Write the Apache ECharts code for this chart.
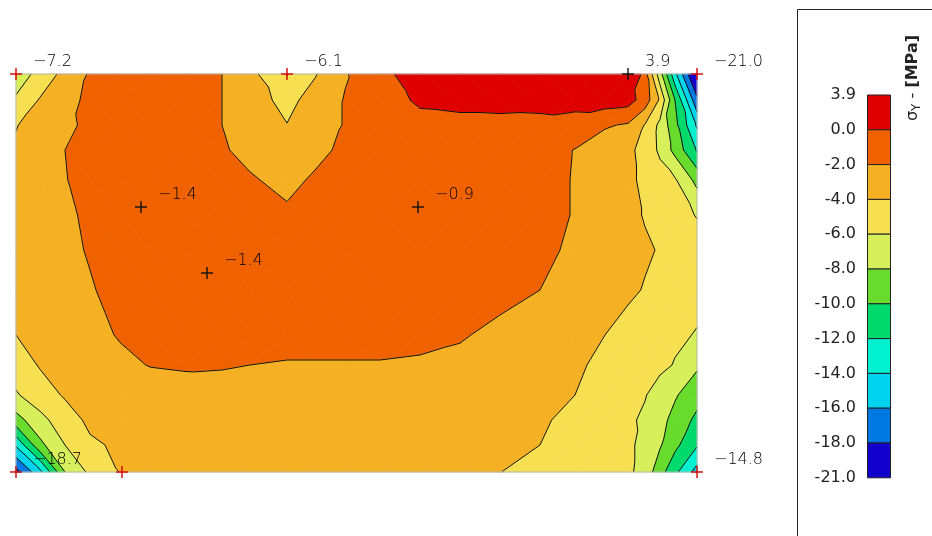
<!DOCTYPE html>
<html><head><meta charset="utf-8">
<script src="https://cdn.jsdelivr.net/npm/echarts@6/dist/echarts.min.js"></script>
<style>html,body{margin:0;padding:0;background:#fff}#c{width:932px;height:536px}</style>
</head><body><div id="c"></div>
<script>
// Mesh node positions (cm along / down the member)
const xNodes = [0, 24, 49, 74, 104, 134, 169, 206, 234, 271, 299, 329, 364, 404, 444, 484, 524, 559, 589, 612, 629, 644, 659, 681];
const yNodes = [0, 26, 51, 76, 106, 141, 176, 216, 261, 291, 321, 346, 371, 398];
// Stress sigma_Y [MPa] at each node, one row per yNode
const row00 = [-7.2, -5.3, -3.4, -1.8, -1.3, -1.0, -1.3, -2.0, -3.4, -6.1, -4.15, -2.15, -0.55, 1.0, 1.8, 2.5, 3.0, 3.4, 3.7, 3.9, -1.2, -7.2, -13.5, -21.0];
const row01 = [-5.7, -3.85, -2.6, -1.6, -1.2, -1.0, -1.2, -2.0, -3.1, -4.6, -3.2, -1.9, -0.9, 0.3, 0.5, 0.6, 0.7, 0.9, 1.0, 0.8, -0.9, -4.3, -10.0, -17.5];
const row02 = [-4.1, -3.1, -2.3, -1.7, -1.3, -1.1, -1.3, -2.0, -2.9, -3.95, -2.9, -1.9, -1.2, -0.6, -0.5, -0.5, -0.6, -1.0, -1.8, -2.2, -4.1, -6.5, -9.4, -14.3];
const row03 = [-3.7, -2.9, -2.0, -1.6, -1.3, -1.2, -1.3, -1.85, -2.4, -2.9, -2.4, -1.7, -1.3, -1.0, -0.9, -1.0, -1.4, -2.05, -3.0, -3.6, -4.6, -6.4, -8.6, -12.2];
const row04 = [-3.4, -2.8, -2.05, -1.6, -1.3, -1.3, -1.3, -1.5, -1.85, -2.4, -1.8, -1.4, -1.1, -1.0, -1.0, -1.1, -1.4, -2.1, -2.9, -3.6, -4.4, -5.1, -5.8, -8.6];
const row05 = [-3.2, -2.7, -2.2, -1.8, -1.4, -1.4, -1.3, -1.3, -1.4, -1.75, -1.5, -1.2, -1.0, -0.9, -0.9, -1.0, -1.4, -2.1, -2.9, -3.6, -4.1, -4.7, -5.3, -6.1];
const row06 = [-3.1, -2.7, -2.3, -1.9, -1.5, -1.4, -1.3, -1.3, -1.3, -1.4, -1.3, -1.2, -1.0, -0.9, -1.0, -1.2, -1.6, -2.3, -2.9, -3.4, -3.8, -4.1, -4.6, -5.2];
const row07 = [-3.1, -2.8, -2.4, -2.1, -1.6, -1.4, -1.4, -1.3, -1.3, -1.3, -1.2, -1.2, -1.1, -1.1, -1.2, -1.5, -2.0, -2.6, -3.2, -3.7, -4.1, -4.6, -5.0, -5.5];
const row08 = [-4.0, -3.3, -2.8, -2.4, -1.9, -1.6, -1.5, -1.5, -1.5, -1.5, -1.5, -1.5, -1.5, -1.6, -1.85, -2.4, -2.9, -3.5, -4.0, -4.6, -5.0, -5.4, -5.7, -6.1];
const row09 = [-5.0, -3.85, -3.2, -2.7, -2.3, -1.95, -1.85, -1.9, -2.0, -2.1, -2.1, -2.1, -2.1, -2.2, -2.4, -2.8, -3.3, -3.8, -4.3, -4.8, -5.2, -5.6, -6.1, -7.7];
const row10 = [-6.2, -4.9, -3.8, -3.4, -3.0, -2.7, -2.55, -2.5, -2.5, -2.55, -2.6, -2.6, -2.7, -2.8, -3.0, -3.3, -3.6, -4.0, -4.7, -5.3, -5.9, -6.8, -7.8, -9.2];
const row11 = [-8.8, -6.6, -4.9, -3.6, -3.4, -3.1, -2.9, -2.8, -2.8, -2.8, -2.9, -2.9, -3.0, -3.1, -3.3, -3.5, -3.8, -4.4, -5.1, -5.7, -6.3, -7.4, -8.6, -10.5];
const row12 = [-13.7, -8.5, -6.0, -4.3, -3.7, -3.4, -3.2, -3.1, -3.1, -3.1, -3.1, -3.2, -3.3, -3.4, -3.6, -3.8, -4.0, -4.6, -5.2, -5.6, -6.6, -7.8, -9.5, -11.8];
const row13 = [-18.7, -14.6, -8.0, -5.6, -3.95, -3.7, -3.5, -3.4, -3.4, -3.4, -3.4, -3.5, -3.6, -3.7, -3.8, -3.98, -4.5, -5.0, -5.5, -5.6, -6.8, -9.2, -11.5, -14.8];
const field = [row00, row01, row02, row03, row04, row05, row06, row07, row08, row09, row10, row11, row12, row13];

// Contour levels and legend
const levels = [3.9, 0.0, -2.0, -4.0, -6.0, -8.0, -10.0, -12.0, -14.0, -16.0, -18.0, -21.0];
const levelLabels = ['3.9', '0.0', '-2.0', '-4.0', '-6.0', '-8.0', '-10.0', '-12.0', '-14.0', '-16.0', '-18.0', '-21.0'];
const bandColors = ['#df0000', '#f06200', '#f5b024', '#f7df52', '#d6ef5a', '#68db2c', '#00da6c', '#00f0d0', '#00d3ee', '#0078e2', '#1200cc'];

// Probe points: boundary probes and inner probes
const edgeProbeX = [0, 271, 681, 0, 106, 681];
const edgeProbeY = [0, 0, 0, 398, 398, 398];
const edgeProbeLabels = ['\u22127.2', '\u22126.1', '\u221221.0', '\u221218.7', '', '\u221214.8'];
const innerProbeX = [612, 125, 402, 191];
const innerProbeY = [0, 133, 133, 199];
const innerProbeLabels = ['3.9', '\u22121.4', '\u22120.9', '\u22121.4'];

const cells = [];
for (let i = 0; i < yNodes.length - 1; i++)
  for (let j = 0; j < xNodes.length - 1; j++) cells.push([xNodes[j], yNodes[i], i, j]);

function node(i, j) { return { x: xNodes[j], y: yNodes[i], v: field[i][j] }; }
function triangles(i, j) {
  const a = node(i, j), b = node(i, j + 1), c = node(i + 1, j + 1), d = node(i + 1, j);
  if (Math.abs(a.v - c.v) <= Math.abs(b.v - d.v)) return [[a, b, c], [a, c, d]];
  return [[a, b, d], [b, c, d]];
}
function clipHalf(poly, f) {
  const out = [], n = poly.length;
  for (let k = 0; k < n; k++) {
    const A = poly[k], B = poly[(k + 1) % n];
    const fa = f(A), fb = f(B);
    if (fa >= 0) out.push(A);
    if ((fa >= 0) !== (fb >= 0)) {
      const t = fa / (fa - fb);
      out.push({ x: A.x + (B.x - A.x) * t, y: A.y + (B.y - A.y) * t, v: A.v + (B.v - A.v) * t });
    }
  }
  return out;
}

const chart = echarts.init(document.getElementById('c'));

const fillSeries = {
  type: 'custom', coordinateSystem: 'cartesian2d', data: cells, z: 2, silent: true,
  renderItem: function (params, api) {
    const i = api.value(2), j = api.value(3);
    const children = [];
    triangles(i, j).forEach(function (tri) {
      for (let k = 0; k < bandColors.length; k++) {
        const hi = k === 0 ? Infinity : levels[k];
        const lo = k === bandColors.length - 1 ? -Infinity : levels[k + 1];
        let poly = clipHalf(tri, function (p) { return p.v - lo; });
        if (poly.length < 3) continue;
        poly = clipHalf(poly, function (p) { return hi - p.v; });
        if (poly.length < 3) continue;
        const pts = poly.map(function (p) { return api.coord([p.x, p.y]); });
        children.push({ type: 'polygon', shape: { points: pts },
          style: { fill: bandColors[k], stroke: bandColors[k], lineWidth: 0.8 } });
      }
    });
    return { type: 'group', children: children };
  }
};

const lineSeries = {
  type: 'custom', coordinateSystem: 'cartesian2d', data: cells, z: 3, silent: true,
  renderItem: function (params, api) {
    const i = api.value(2), j = api.value(3);
    const children = [];
    triangles(i, j).forEach(function (tri) {
      for (let k = 1; k < levels.length - 1; k++) {
        const L = levels[k];
        const pts = [];
        for (let e = 0; e < 3; e++) {
          const A = tri[e], B = tri[(e + 1) % 3];
          if ((A.v >= L) !== (B.v >= L)) {
            const t = (L - A.v) / (B.v - A.v);
            pts.push(api.coord([A.x + (B.x - A.x) * t, A.y + (B.y - A.y) * t]));
          }
        }
        if (pts.length === 2) children.push({ type: 'line',
          shape: { x1: pts[0][0], y1: pts[0][1], x2: pts[1][0], y2: pts[1][1] },
          style: { stroke: '#111', lineWidth: 1 } });
      }
    });
    return { type: 'group', children: children };
  }
};

function probeSeries(xs, ys, labels, color) {
  return {
    type: 'custom', coordinateSystem: 'cartesian2d', z: 5, silent: true,
    data: xs.map(function (x, k) { return [x, ys[k]]; }),
    renderItem: function (params, api) {
      const p = api.coord([api.value(0), api.value(1)]);
      const lab = labels[params.dataIndex];
      return { type: 'group', children: [
        { type: 'line', shape: { x1: p[0] - 6, y1: p[1], x2: p[0] + 6, y2: p[1] }, style: { stroke: color, lineWidth: 1.4 } },
        { type: 'line', shape: { x1: p[0], y1: p[1] - 6, x2: p[0], y2: p[1] + 6 }, style: { stroke: color, lineWidth: 1.4 } },
        { type: 'text', x: p[0] + 17, y: p[1] - 12,
          style: { text: lab, fill: '#000', font: '300 16px "DejaVu Sans"', align: 'left', verticalAlign: 'middle' } }
      ] };
    }
  };
}

// Legend graphics
const graphics = [];
graphics.push({ type: 'rect', shape: { x: 797.5, y: 9.5, width: 200, height: 600 },
  style: { fill: 'none', stroke: '#222', lineWidth: 1 } });
const barTop = 95, barH = 34.8;
for (let k = 0; k < bandColors.length; k++) {
  graphics.push({ type: 'rect', shape: { x: 867.5, y: barTop + k * barH, width: 23, height: barH },
    style: { fill: bandColors[k], stroke: '#222', lineWidth: 1 } });
}
for (let k = 0; k < levelLabels.length; k++) {
  graphics.push({ type: 'text', x: 856, y: barTop + k * barH,
    style: { text: levelLabels[k], fill: '#222', font: '16px "DejaVu Sans"', align: 'right', verticalAlign: 'middle' } });
}
graphics.push({ type: 'text', x: 913, y: 78, rotation: Math.PI / 2,
  style: { text: '{n|\u03c3}{s|Y}{n| - }{b|[MPa]}', align: 'center', verticalAlign: 'middle', fill: '#222',
    rich: { n: { font: '16px "DejaVu Sans"', fill: '#222' },
            s: { font: '12px "DejaVu Sans"', fill: '#222', verticalAlign: 'bottom', padding: [7, 0, 0, 0] },
            b: { font: 'bold 16px "DejaVu Sans"', fill: '#222' } } } });

chart.setOption({
  animation: false,
  backgroundColor: '#fff',
  grid: { left: 16, top: 74, width: 681, height: 398, show: true, z: 4,
    borderColor: '#b8b8b8', borderWidth: 1, backgroundColor: 'transparent' },
  xAxis: { type: 'value', min: 0, max: 681, show: false },
  yAxis: { type: 'value', min: 0, max: 398, inverse: true, show: false },
  series: [fillSeries, lineSeries,
    probeSeries(edgeProbeX, edgeProbeY, edgeProbeLabels, '#d40000'),
    probeSeries(innerProbeX, innerProbeY, innerProbeLabels, '#111')],
  graphic: graphics
});
</script></body></html>
